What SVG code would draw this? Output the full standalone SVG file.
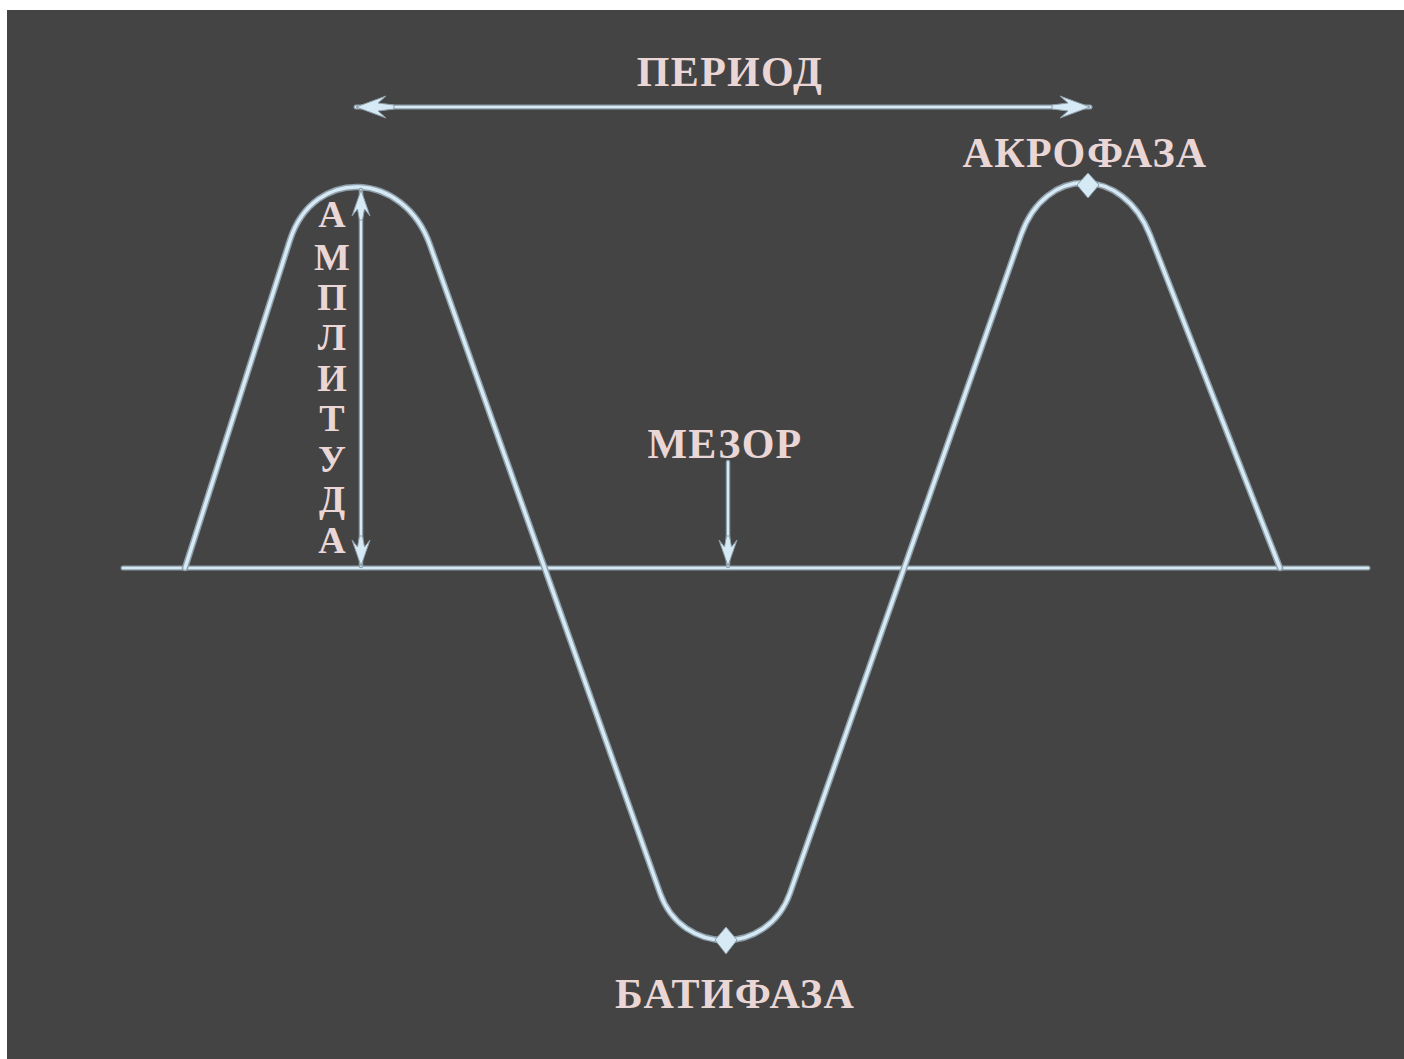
<svg xmlns="http://www.w3.org/2000/svg" width="1404" height="1059" viewBox="0 0 1404 1059">
  <style>
    .lbl { font-family: "Liberation Serif", "Times New Roman", serif; font-weight: bold; fill: #ebd6d6; }
    .big { font-size: 42px; letter-spacing: 1.3px; }
    .edge { fill: none; stroke: #8d9ea9; stroke-linejoin: round; stroke-linecap: round; }
    .core { fill: none; stroke: #d6eaf6; stroke-linejoin: round; stroke-linecap: round; }
  </style>
  <defs>
    <marker id="head" viewBox="-2 -13 42 26" refX="38" refY="0" markerWidth="42" markerHeight="26" markerUnits="userSpaceOnUse" orient="auto-start-reverse">
      <path d="M38,0 L8,-11 L16,-4 L0,-2 L0,2 L16,4 L8,11 Z" fill="#d6eaf6" stroke="#8d9ea9" stroke-width="1"/>
    </marker>
    <marker id="headS" viewBox="-2 -11 34 22" refX="30" refY="0" markerWidth="34" markerHeight="22" markerUnits="userSpaceOnUse" orient="auto-start-reverse">
      <path d="M30,0 L4,-9 L11,-3.5 L0,-1.5 L0,1.5 L11,3.5 L4,9 Z" fill="#d6eaf6" stroke="#8d9ea9" stroke-width="1"/>
    </marker>
  </defs>
  <rect x="0" y="0" width="1404" height="1059" fill="#ffffff"/>
  <rect x="7" y="10" width="1397" height="1049" fill="#444444"/>

  <g id="connectors">
    <g id="baseline">
      <line class="edge" x1="123" y1="568" x2="1368" y2="568" stroke-width="5"/>
      <line class="core" x1="123" y1="568" x2="1368" y2="568" stroke-width="2.5"/>
    </g>
    <g id="wave">
      <path class="edge" stroke-width="6.5" d="M185,568 L290,240 C314,166 404,171 430,245 L660,893 C682,956 768,956 790,893 L1021,235 C1045.5,165 1123,166 1150,235 L1280,568"/>
      <path class="core" stroke-width="3.5" d="M185,568 L290,240 C314,166 404,171 430,245 L660,893 C682,956 768,956 790,893 L1021,235 C1045.5,165 1123,166 1150,235 L1280,568"/>
    </g>
    <g id="period-arrow">
      <line class="edge" x1="356" y1="107" x2="1090" y2="107" stroke-width="5" stroke-linecap="butt"/>
      <line class="core" x1="356" y1="107" x2="1090" y2="107" stroke-width="2.5" stroke-linecap="butt" marker-start="url(#head)" marker-end="url(#head)"/>
    </g>
    <g id="amplitude-arrow">
      <line class="edge" x1="361" y1="190" x2="361" y2="566" stroke-width="4.5" stroke-linecap="butt"/>
      <line class="core" x1="361" y1="190" x2="361" y2="566" stroke-width="2" stroke-linecap="butt" marker-start="url(#headS)" marker-end="url(#headS)"/>
    </g>
    <g id="mesor-arrow">
      <line class="edge" x1="728" y1="462" x2="728" y2="566" stroke-width="4.5" stroke-linecap="butt"/>
      <line class="core" x1="728" y1="462" x2="728" y2="566" stroke-width="2" stroke-linecap="butt" marker-end="url(#headS)"/>
    </g>
  </g>

  <g id="acrophase-point">
    <path d="M1088,173 L1099,185 L1088,198 L1077,185 Z" fill="#d6eaf6" stroke="#8d9ea9" stroke-width="1"/>
  </g>
  <g id="bathyphase-point">
    <path d="M726,927 L737,940 L726,954 L715,940 Z" fill="#d6eaf6" stroke="#8d9ea9" stroke-width="1"/>
  </g>

  <g id="period-label">
    <text class="lbl big" x="730" y="86" text-anchor="middle">ПЕРИОД</text>
  </g>
  <g id="acrophase-label">
    <text class="lbl big" x="1085" y="167" text-anchor="middle">АКРОФАЗА</text>
  </g>
  <g id="mesor-label">
    <text class="lbl big" x="725" y="458" text-anchor="middle">МЕЗОР</text>
  </g>
  <g id="bathyphase-label">
    <text class="lbl big" x="735" y="1008" text-anchor="middle">БАТИФАЗА</text>
  </g>
  <g id="amplitude-label" class="lbl" font-size="38" text-anchor="middle">
    <text x="332" y="227">А</text>
    <text x="332" y="270">М</text>
    <text x="332" y="310">П</text>
    <text x="332" y="350">Л</text>
    <text x="332" y="391">И</text>
    <text x="332" y="431">Т</text>
    <text x="332" y="472">У</text>
    <text x="332" y="512">Д</text>
    <text x="332" y="553">А</text>
  </g>
</svg>
